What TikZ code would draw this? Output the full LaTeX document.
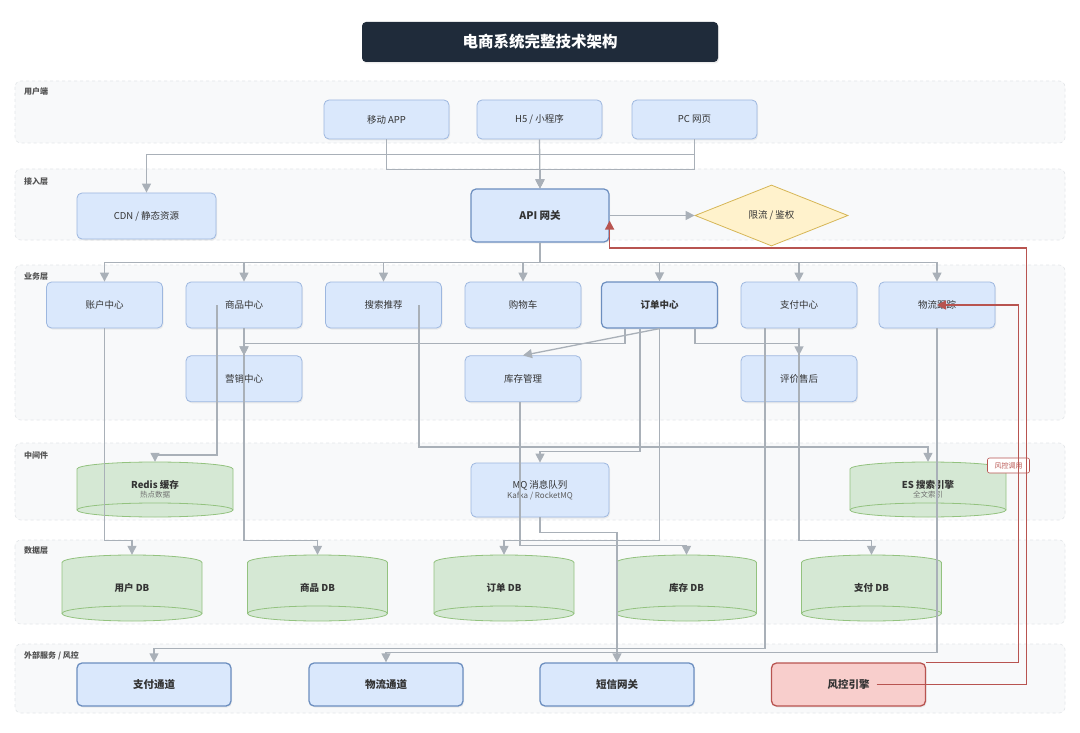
\documentclass[tikz,border=0pt]{standalone}
\usepackage{fontspec}
\setmainfont{Noto Sans CJK SC}
\usetikzlibrary{arrows.meta,positioning,shapes.geometric,shadows}

\definecolor{bandfill}{HTML}{F8F9FA}
\definecolor{bandline}{HTML}{E3E6E9}
\definecolor{titlebg}{HTML}{1F2B3A}
\definecolor{svcfill}{HTML}{DAE8FC}
\definecolor{svcline}{HTML}{9DB7DF}
\definecolor{svcdark}{HTML}{6C8EBF}
\definecolor{dbfill}{HTML}{D5E8D4}
\definecolor{dbline}{HTML}{93C27F}
\definecolor{gatefill}{HTML}{FFF2CC}
\definecolor{gateline}{HTML}{D6B656}
\definecolor{riskfill}{HTML}{F8CECC}
\definecolor{riskred}{HTML}{B85450}
\definecolor{wiregray}{HTML}{A9B0B8}
\definecolor{ink}{HTML}{333333}

% cylinder: centre x, centre y, half width, half height, cap radius
\newcommand{\dbcyl}[5]{%
  \begin{scope}[shift={(#1,#2)}]
    \filldraw[fill=dbfill, draw=dbline, line width=0.8pt]
      (-#3,-#4+#5) -- (-#3,#4-#5)
      arc[start angle=180, end angle=360, x radius=#3pt, y radius=#5pt]
      -- (#3,-#4+#5)
      arc[start angle=0, end angle=180, x radius=#3pt, y radius=#5pt] -- cycle;
    \draw[dbline, line width=0.8pt] (-#3,#4-#5)
      arc[start angle=180, end angle=0, x radius=#3pt, y radius=#5pt];
  \end{scope}}

\begin{document}
\begin{tikzpicture}[
x=1pt, y=-1pt,
band/.style={fill=bandfill, draw=bandline, dashed, rounded corners=6pt, line width=0.6pt},
layer/.style={anchor=west, inner sep=0pt, text=ink!85, font=\fontsize{8}{9}\selectfont\bfseries},
svc/.style={
draw=svcline,
fill=svcfill,
rounded corners=5pt,
line width=0.8pt,
minimum width=116pt,
minimum height=46pt,
inner sep=0pt,
align=center,
text=ink,
font=\fontsize{9.5}{11}\selectfont,
drop shadow={shadow xshift=1pt, shadow yshift=-1.5pt, opacity=0.12}
},
svckey/.style={svc, draw=svcdark, line width=1.2pt, font=\fontsize{9.5}{11}\selectfont\bfseries},
client/.style={svc, minimum width=125pt, minimum height=39pt},
extbox/.style={svc, draw=svcdark, line width=1.3pt, minimum width=154pt, minimum height=43pt,
  font=\fontsize{10.5}{12}\selectfont\bfseries},
cyltext/.style={inner sep=0pt, align=center, text=ink, font=\fontsize{9.5}{11}\selectfont\bfseries},
line/.style={-{Triangle[length=9pt,width=9pt]}, draw=wiregray, line width=1.3pt},
alarm/.style={-{Triangle[length=9pt,width=9pt]}, draw=riskred, line width=1.6pt}
]

\fill[white] (0,0) rectangle (1080,733);
\useasboundingbox (0,0) rectangle (1080,733);

% layers
\draw[band] (15,81) rectangle (1065,143);
\draw[band] (15,169) rectangle (1065,240);
\draw[band] (15,265) rectangle (1065,420);
\draw[band] (15,443) rectangle (1065,520);
\draw[band] (15,540) rectangle (1065,624);
\draw[band] (15,644) rectangle (1065,713);

\node[layer] (lyuser) at (24,91.5) {用户端};
\node[layer] (lyaccess) at (24,181) {接入层};
\node[layer] (lybiz) at (24,277) {业务层};
\node[layer] (lymid) at (24,455) {中间件};
\node[layer] (lydata) at (24,551) {数据层};
\node[layer] (lyext) at (24,656) {外部服务 / 风控};

\node[fill=titlebg, rounded corners=4pt, minimum width=356pt, minimum height=40pt,
  text=white, font=\fontsize{15.5}{18}\selectfont\bfseries,
  drop shadow={shadow xshift=1pt, shadow yshift=-1.5pt, opacity=0.15}]
  (title) at (540,42) {电商系统完整技术架构};

% clients
\node[client] (app) at (386.5,119.5) {移动 APP};
\node[client] (h5) at (539.5,119.5) {H5 / 小程序};
\node[client] (pc) at (694.5,119.5) {PC 网页};

% access
\node[svc, minimum width=139pt] (cdn) at (146.5,216) {CDN / 静态资源};
\node[svckey, minimum width=138pt, minimum height=53pt,
  font=\fontsize{10.5}{12}\selectfont\bfseries] (api) at (540,215.5) {API 网关};
\node[diamond, draw=gateline, fill=gatefill, line width=0.8pt, aspect=2.5,
  minimum width=153pt, minimum height=61pt, inner sep=0pt,
  text=ink, font=\fontsize{9.5}{11}\selectfont] (gate) at (771.5,215.5) {限流 / 鉴权};

% services
\node[svc] (acct) at (104.5,305) {账户中心};
\node[svc] (prod) at (244,305) {商品中心};
\node[svc] (search) at (383.5,305) {搜索推荐};
\node[svc] (cart) at (523,305) {购物车};
\node[svckey] (order) at (659.5,305) {订单中心};
\node[svc] (pay) at (799,305) {支付中心};
\node[svc] (ship) at (937,305) {物流跟踪};

\node[svc, below=27pt of prod] (mkt) {营销中心};
\node[svc, below=27pt of cart] (stock) {库存管理};
\node[svc, below=27pt of pay] (review) {评价售后};

% middleware
\dbcyl{155}{489.5}{78}{27.5}{7}
\node[cyltext, minimum width=156pt, minimum height=55pt] (redis) at (155,489.5)
  {Redis 缓存\\[-2pt]{\fontsize{7.5}{9}\selectfont\mdseries\color{ink!70}热点数据}};
\node[svc, minimum width=138pt, minimum height=54pt] (mq) at (540,490)
  {MQ 消息队列\\[-1pt]{\fontsize{8}{9}\selectfont\color{ink!80}Kafka / RocketMQ}};
\dbcyl{928}{489.5}{78}{27.5}{7}
\node[cyltext, minimum width=156pt, minimum height=55pt] (es) at (928,489.5)
  {ES 搜索引擎\\[-2pt]{\fontsize{7.5}{9}\selectfont\mdseries\color{ink!70}全文索引}};

% databases
\foreach \x/\n/\t in {132/udb/用户, 317.5/pdb/商品, 504/odb/订单, 686.5/sdb/库存, 871.5/paydb/支付}{
  \dbcyl{\x}{588}{70}{33}{7.5}
  \node[cyltext, minimum width=140pt, minimum height=66pt] (\n) at (\x,588) {\t\ DB};
}

% external
\node[extbox] (paych) at (154,684.5) {支付通道};
\node[extbox] (shipch) at (386,684.5) {物流通道};
\node[extbox] (sms) at (617,684.5) {短信网关};
\node[extbox, fill=riskfill, draw=riskred] (risk) at (848.5,684.5) {风控引擎};

% arrows
\draw[line] (app.south) -- ++(0,30) -| (api.north);
\draw[line] (h5.south) -- (api.north);
\draw[line] (pc.south) -- ++(0,30) -| (api.north);
\draw[line] (pc.south) -- ++(0,15) -| (cdn.north);
\draw[line] (api.east) -- (gate.west);

\foreach \n in {acct,prod,search,cart,order,pay,ship}
  \draw[line] (api.south) -- ++(0,20) -| (\n.north);

\draw[line] (prod.south) -- (mkt.north);
\draw[line] ([xshift=-34.5pt]order.south) -- ++(0,15) -| (mkt.north);
\draw[line] (order.south) -- (stock.north);
\draw[line] ([xshift=35.5pt]order.south) -- ++(0,15) -| (review.north);
\draw[line] ([xshift=-19.5pt]order.south) -- ++(0,123) -| (mq.north);
\draw[line] (order.south) -- ++(0,212) -| (odb.north);

\draw[line] (acct.south) -- ++(0,212) -| (udb.north);
\draw[line] (prod.south) -- ++(0,212) -| (pdb.north);
\draw[line] ([xshift=-27pt]prod.center) -- ++(0,150) -| (redis.north);
\draw[line] ([xshift=35.5pt]search.center) -- ++(0,142) -| (es.north);
\draw[line] ([xshift=-3pt]stock.south) -- ++(0,143) -| (sdb.north);
\draw[line] (pay.south) -- ++(0,212) -| (paydb.north);
\draw[line] ([xshift=-34pt]pay.south) -- ++(0,320) -| (paych.north);
\draw[line] (ship.south) -- ++(0,324) -| (shipch.north);
\draw[line] (mq.south) -- ++(0,15) -| (sms.north);

% risk control calls
\node[draw=riskred, fill=white, rounded corners=2pt, line width=0.6pt, inner sep=0pt,
  minimum width=42pt, minimum height=15pt, text=riskred,
  font=\fontsize{7}{8}\selectfont] (risktag) at (1008.5,465.5) {风控调用};
\draw[alarm] ([xshift=28pt]risk.center) -- ++(150,0) |- ([yshift=-5.5pt]api.south east)
  -- ([yshift=22pt]api.south east);
\draw[alarm] (risk.north east) -- ++(92.5,0) |- (ship.center);

\end{tikzpicture}
\end{document}
